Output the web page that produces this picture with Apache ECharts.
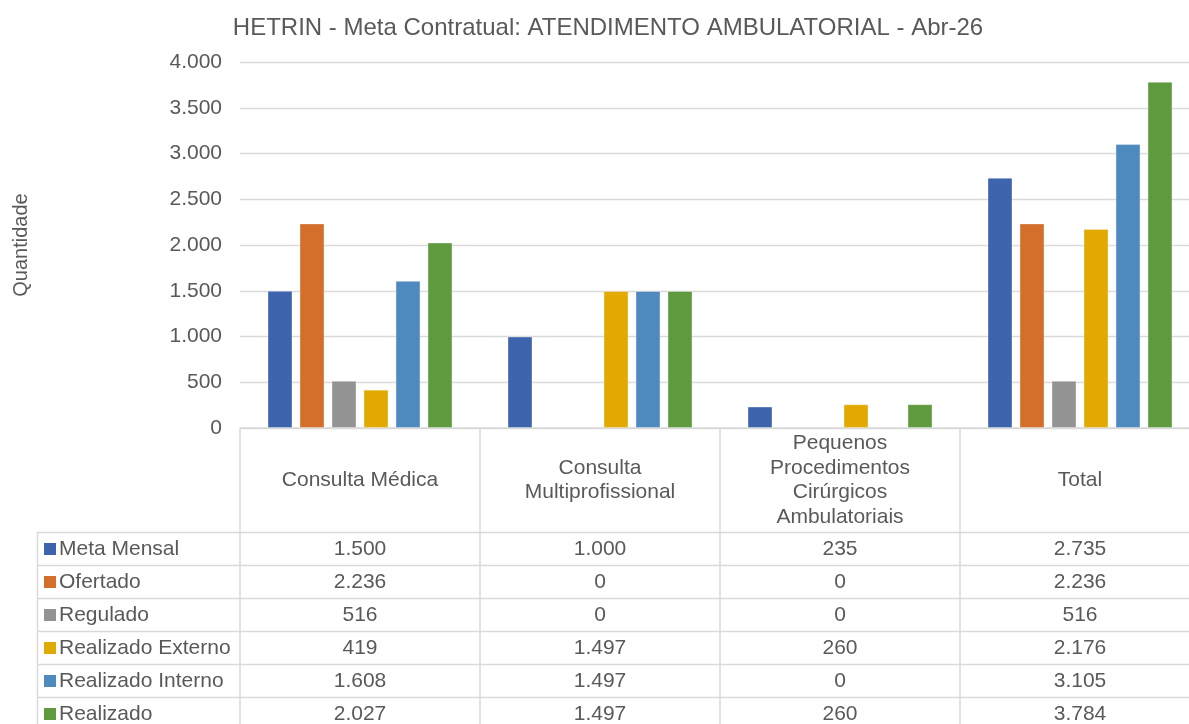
<!DOCTYPE html>
<html>
<head>
<meta charset="utf-8">
<title>HETRIN - Atendimento Ambulatorial</title>
<script src="https://cdn.jsdelivr.net/npm/echarts@6/dist/echarts.min.js"></script>
<style>
  html, body { margin: 0; padding: 0; overflow: hidden; background: #fff; }
  #chart { width: 1200px; height: 724px; }
</style>
</head>
<body>
<div id="chart"></div>
<script>
// dados da planilha
const categories = ['Consulta Médica', 'Consulta\nMultiprofissional', 'Pequenos\nProcedimentos\nCirúrgicos\nAmbulatoriais', 'Total']
const seriesNames = ['Meta Mensal', 'Ofertado', 'Regulado', 'Realizado Externo', 'Realizado Interno', 'Realizado']
const metaMensal = [1500, 1000, 235, 2735]
const ofertado = [2236, 0, 0, 2236]
const regulado = [516, 0, 0, 516]
const realizadoExterno = [419, 1497, 260, 2176]
const realizadoInterno = [1608, 1497, 0, 3105]
const realizado = [2027, 1497, 260, 3784]
const yTicks = [0, 500, 1000, 1500, 2000, 2500, 3000, 3500, 4000]

const seriesData = [metaMensal, ofertado, regulado, realizadoExterno, realizadoInterno, realizado]
const colors = ['#3d64ad', '#d46e2b', '#939393', '#e2aa00', '#4e8abe', '#609a3e']

const FONT = '"Liberation Sans", Arial, sans-serif'
const TEXT = '#595959'
const BORDER = '#d9d9d9'
const HEADER_H = 104
const ROW_H = 33
const TABLE_LEFT = 37

function fmt (v) {
  return String(v).replace(/\B(?=(\d{3})+(?!\d))/g, '.')
}

const chart = echarts.init(document.getElementById('chart'))

const option = {
  animation: false,
  color: colors,
  title: {
    text: 'HETRIN - Meta Contratual: ATENDIMENTO AMBULATORIAL - Abr-26',
    left: 603,
    textAlign: 'center',
    top: 11,
    textStyle: {
      color: TEXT,
      fontFamily: FONT,
      fontSize: 24,
      fontWeight: 'normal'
    }
  },
  grid: {
    left: 240,
    top: 62,
    width: 960,
    height: 366
  },
  xAxis: {
    type: 'category',
    data: categories,
    axisLine: { lineStyle: { color: BORDER, width: 1.5 } },
    axisTick: {
      show: true,
      length: HEADER_H + ROW_H * seriesNames.length,
      lineStyle: { color: BORDER, width: 1.5 }
    },
    axisLabel: {
      interval: 0,
      margin: HEADER_H / 2,
      verticalAlign: 'middle',
      lineHeight: 24.5,
      color: TEXT,
      fontFamily: FONT,
      fontSize: 21
    }
  },
  yAxis: {
    type: 'value',
    min: yTicks[0],
    max: yTicks[yTicks.length - 1],
    interval: yTicks[1] - yTicks[0],
    name: 'Quantidade',
    nameLocation: 'middle',
    nameRotate: 90,
    nameGap: 209,
    nameTextStyle: { color: TEXT, fontFamily: FONT, fontSize: 20 },
    axisLine: { show: false },
    axisTick: { show: false },
    axisLabel: {
      margin: 18,
      color: TEXT,
      fontFamily: FONT,
      fontSize: 21,
      formatter: fmt
    },
    splitLine: { lineStyle: { color: BORDER, width: 1.3 } }
  },
  series: seriesNames.map((name, i) => ({
    name,
    type: 'bar',
    barWidth: 25,
    barGap: '28%',
    data: seriesData[i].map(v => (v === 0 ? null : v)),
    itemStyle: {
      color: colors[i],
      borderColor: 'rgba(255,255,255,0.35)',
      borderWidth: 1
    }
  }))
}

chart.setOption(option)

// tabela de dados embaixo do grafico
function buildTable () {
  const base = chart.convertToPixel({ yAxisIndex: 0 }, 0)
  const centers = categories.map((c, i) => chart.convertToPixel({ xAxisIndex: 0 }, i))
  const band = centers[1] - centers[0]
  const right = centers[centers.length - 1] + band / 2
  const top = base + HEADER_H
  const els = []

  for (let r = 0; r <= seriesNames.length; r++) {
    const y = Math.round(top + r * ROW_H) + 0.5
    els.push({
      type: 'line',
      silent: true,
      shape: { x1: TABLE_LEFT, y1: y, x2: right, y2: y },
      style: { stroke: BORDER, lineWidth: 1.5 }
    })
  }
  els.push({
    type: 'line',
    silent: true,
    shape: { x1: TABLE_LEFT + 0.5, y1: top, x2: TABLE_LEFT + 0.5, y2: top + ROW_H * seriesNames.length },
    style: { stroke: BORDER, lineWidth: 1.5 }
  })

  seriesNames.forEach((name, r) => {
    const cy = top + r * ROW_H + ROW_H / 2 + 0.5
    els.push({
      type: 'rect',
      silent: true,
      shape: { x: 44, y: cy - 6, width: 12, height: 12 },
      style: { fill: colors[r] }
    })
    els.push({
      type: 'text',
      silent: true,
      style: {
        text: name, x: 59, y: cy,
        fill: TEXT, fontFamily: FONT, fontSize: 21,
        align: 'left', verticalAlign: 'middle',
        textAlign: 'left', textVerticalAlign: 'middle'
      }
    })
    seriesData[r].forEach((v, i) => {
      els.push({
        type: 'text',
        silent: true,
        style: {
          text: fmt(v), x: centers[i], y: cy,
          fill: TEXT, fontFamily: FONT, fontSize: 21,
          align: 'center', verticalAlign: 'middle',
          textAlign: 'center', textVerticalAlign: 'middle'
        }
      })
    })
  })

  chart.setOption({ graphic: els })
}

buildTable()
</script>
</body>
</html>
